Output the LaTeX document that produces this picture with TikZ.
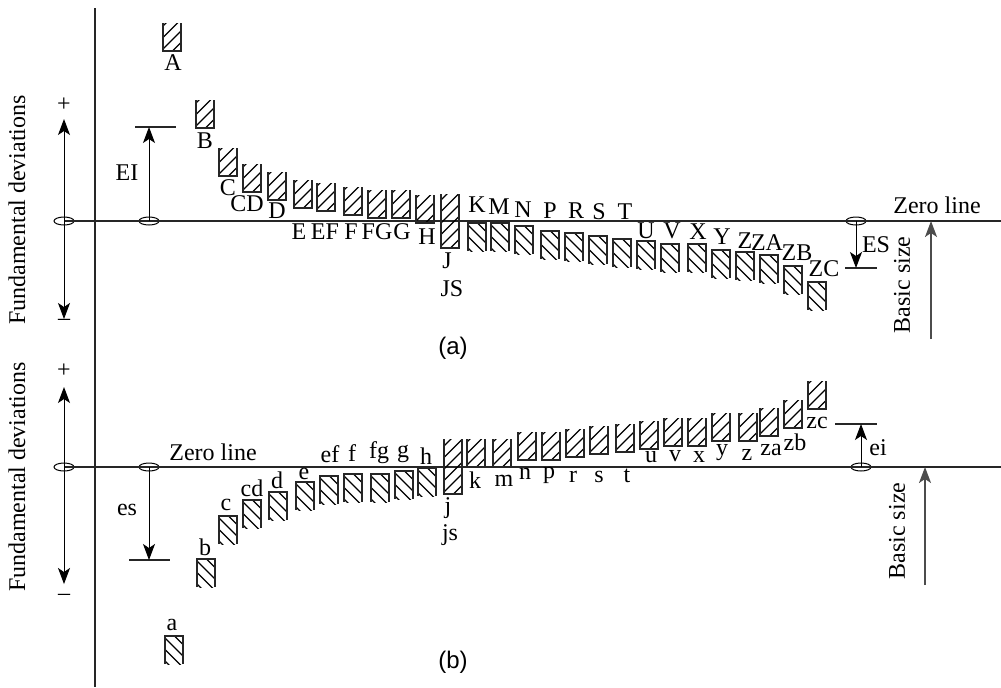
\documentclass[tikz,border=0pt]{standalone}
\usepackage{fontspec}
\setmainfont{Liberation Serif}
\newfontfamily\capfont{Liberation Sans}
\usetikzlibrary{shapes.geometric, arrows.meta, positioning, calc}

% 18 wide, closed at the bottom, rising hatch
\newcommand{\riseblock}[3]{%
  \begin{scope}
    \clip (#1,#2) rectangle (#1+18,#3);
    \foreach \k in {0,11.5,...,69}
      \draw[hatch] (#1,#3+9.5-\k) -- ++(18,-18);
  \end{scope}
  \draw[edge] (#1,#2) -- (#1,#3) -- (#1+18,#3) -- (#1+18,#2);
}
% 18 wide, closed at the top, falling hatch
\newcommand{\fallblock}[3]{%
  \begin{scope}
    \clip (#1,#2) rectangle (#1+18,#3);
    \foreach \k in {0,11.5,...,46}
      \draw[hatch] (#1,#2-9.5+\k) -- ++(18,18);
  \end{scope}
  \draw[edge] (#1,#3) -- (#1,#2) -- (#1+18,#2) -- (#1+18,#3);
}

\begin{document}
\begin{tikzpicture}[
  x=0.5pt, y=-0.5pt,
  edge/.style={line width=0.6pt, black!85},
  hatch/.style={line width=0.55pt, black},
  rule/.style={line width=0.65pt, black!85},
  arr/.style={-{Stealth[length=8pt, width=6pt, inset=2pt]}, line width=0.5pt, black},
  arrb/.style={{Stealth[length=8pt, width=6pt, inset=2pt]}-{Stealth[length=8pt, width=6pt, inset=2pt]}, line width=0.5pt, black},
  sizearr/.style={-{Stealth[length=8pt, width=6pt, inset=2pt]}, line width=0.85pt, black!70},
  pivot/.style={ellipse, draw, line width=0.5pt, minimum width=10pt, minimum height=4pt, inner sep=0pt},
  lab/.style={inner sep=0pt, font=\fontsize{12}{12}\selectfont},
  caption/.style={inner sep=0pt, font=\capfont\fontsize{12}{12}\selectfont},
]
  \useasboundingbox (0,0) rectangle (1001,687);

  % Axis
  \coordinate (axtop) at (95,8);
  \coordinate (axbot) at (95,687);
  \draw[rule] (axtop) -- (axbot);

  % Zero lines
  \node[pivot] (pa1) at (64,221) {};
  \node[pivot] (pa2) at (149,221) {};
  \node[pivot] (pa3) at (856,221) {};
  \node[pivot] (pb1) at (64,467) {};
  \node[pivot] (pb2) at (149,467) {};
  \node[pivot] (pb3) at (861,467) {};
  \coordinate (enda) at (1001,221);
  \coordinate (endb) at (1001,467);
  \draw[rule] (pa1.center) -- (enda);
  \draw[rule] (pb1.center) -- (endb);

  % Upper blocks
  \foreach \name/\xl/\yt/\lx/\ly in {A/163/23/173/63, B/196/100/205/141, C/219/148/228/188,
      CD/243/164/247/204, D/268/172/277/211, E/294/180/299/232, EF/317/183/325/232,
      F/344/187/351/232, FG/368/190/377/232, G/392/190/402/232, H/416/195/427/237}{
    \riseblock{\xl}{\yt}{\yt+28}
    \node[lab] (a\name) at (\lx,\ly) {\name};
  }
  \riseblock{441}{194}{248}
  \node[lab] (aJ) at (447,261) {J};
  \node[lab] (aJS) at (452,289) {JS};
  \foreach \name/\xl/\yt/\lx/\ly in {K/468/223/477/205, M/491/223/499/207, N/515/226/523/210,
      P/541/231/550/211, R/565/233/576/211, S/589/236/599/212, T/613/239/625/212,
      U/637/241/646/231, V/661/244/672/231, X/688/244/698/232, Y/712/250/722/237,
      Z/736/252/745/241, ZA/760/255/767/243, ZB/784/266/797/253, ZC/808/282/824/269}{
    \fallblock{\xl}{\yt}{\yt+28}
    \node[lab] (a\name) at (\lx,\ly) {\name};
  }

  % Lower blocks
  \foreach \name/\xl/\yt/\lx/\ly in {a/165/636/172/625, b/197/559/205/547, c/219/516/226/505,
      cd/243/500/252/488, d/269/492/277/480, e/296/482/304/474, ef/320/476/330/454,
      f/344/474/352/453, fg/371/474/379/453, g/395/471/403/454, h/418/468/426/456}{
    \fallblock{\xl}{\yt}{\yt+28}
    \node[lab] (b\name) at (\lx,\ly) {\name};
  }
  \riseblock{444}{439}{494}
  \node[lab] (bj) at (448,508) {j};
  \node[lab] (bjs) at (450,535) {js};
  \foreach \name/\xl/\yt/\lx/\ly in {k/467/439/475/480, m/493/439/504/481, n/518/432/525/474,
      p/542/432/549/475, r/566/429/573/477, s/590/426/599/477, t/616/424/627/476,
      u/640/421/651/457, v/664/418/675/456, x/688/418/699/457, y/712/413/722/453,
      z/739/413/747/455, za/760/408/771/450, zb/784/400/795/442, zc/808/381/817/423}{
    \riseblock{\xl}{\yt}{\yt+28}
    \node[lab] (b\name) at (\lx,\ly) {\name};
  }

  % Part (a) dimensions
  \coordinate (fatop) at (64,119);
  \coordinate (fabot) at (64,319);
  \draw[arrb] (fabot) -- (fatop);
  \node[lab] (plusa) at (64,105) {+};
  \node[lab] (minusa) at (64,322) {--};
  \node[lab, rotate=90] (funda) at (17,210) {Fundamental deviations};

  \coordinate (eiL) at (135,127);
  \coordinate (eiR) at (176,127);
  \coordinate (eiT) at (149,127);
  \draw[rule] (eiL) -- (eiR);
  \draw[arr] (pa2.center) -- (eiT);
  \node[lab] (EI) at (127,173) {EI};

  \coordinate (esL) at (845,268);
  \coordinate (esR) at (877,268);
  \coordinate (esB) at (856,268);
  \draw[rule] (esL) -- (esR);
  \draw[arr] (pa3.center) -- (esB);
  \node[lab] (ES) at (876,245) {ES};

  \node[lab] (zeroa) at (937,205) {Zero line};
  \node[lab, rotate=90] (basica) at (902,285) {Basic size};
  \coordinate (sizea) at (931,339);
  \coordinate (sizeaT) at (931,221);
  \draw[sizearr] (sizea) -- (sizeaT);
  \node[caption] (capa) at (453,348) {(a)};

  % Part (b) dimensions
  \coordinate (fbtop) at (64,387);
  \coordinate (fbbot) at (64,584);
  \draw[arrb] (fbbot) -- (fbtop);
  \node[lab] (plusb) at (64,371) {+};
  \node[lab] (minusb) at (64,597) {--};
  \node[lab, rotate=90] (fundb) at (17,477) {Fundamental deviations};

  \coordinate (esl) at (129,560);
  \coordinate (esr) at (170,560);
  \coordinate (esb) at (149,560);
  \draw[rule] (esl) -- (esr);
  \draw[arr] (pb2.center) -- (esb);
  \node[lab] (es) at (127,510) {es};

  \coordinate (eil) at (835,424);
  \coordinate (eir) at (877,424);
  \coordinate (eit) at (861,424);
  \draw[rule] (eil) -- (eir);
  \draw[arr] (pb3.center) -- (eit);
  \node[lab] (ei) at (878,448) {ei};

  \node[lab] (zerob) at (213,452) {Zero line};
  \node[lab, rotate=90] (basicb) at (897,531) {Basic size};
  \coordinate (sizeb) at (925,585);
  \coordinate (sizebT) at (925,467);
  \draw[sizearr] (sizeb) -- (sizebT);
  \node[caption] (capb) at (453,662) {(b)};
\end{tikzpicture}
\end{document}
